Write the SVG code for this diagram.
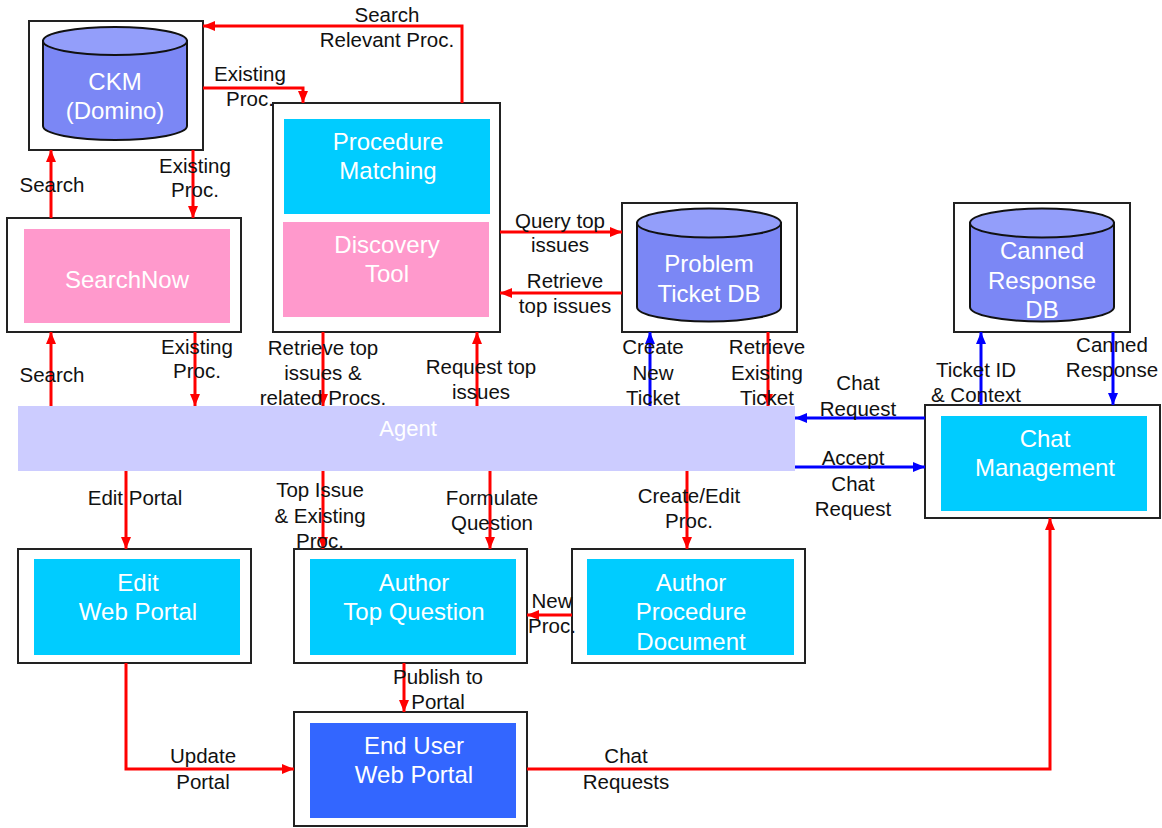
<svg xmlns="http://www.w3.org/2000/svg" width="1162" height="828" viewBox="0 0 1162 828">
<style>
.frame{fill:#fff;stroke:#222;stroke-width:2}
.cyan{fill:#00CCFF}
.pink{fill:#FF99CC}
.dark{fill:#3366FF}
.agent{fill:#CCCCFF}
.cyl{fill:#7B87F5;stroke:#111;stroke-width:2}
.cyltop{fill:#939EFA;stroke:#111;stroke-width:2}
.bt{font-family:"Liberation Sans",Arial,sans-serif;font-size:24px;fill:#fff;text-anchor:middle}
.lb{font-family:"Liberation Sans",Arial,sans-serif;font-size:20.5px;fill:#111;text-anchor:middle}
.r{fill:none;stroke:#FF0000;stroke-width:3;marker-end:url(#ar)}
.b{fill:none;stroke:#0000FF;stroke-width:3;marker-end:url(#ab)}
</style>
<defs>
<marker id="ar" markerUnits="userSpaceOnUse" markerWidth="12" markerHeight="10" refX="12" refY="5" orient="auto"><path d="M0,0 L12,5 L0,10 Z" fill="#FF0000"/></marker>
<marker id="ab" markerUnits="userSpaceOnUse" markerWidth="12" markerHeight="10" refX="12" refY="5" orient="auto"><path d="M0,0 L12,5 L0,10 Z" fill="#0000FF"/></marker>
</defs>
<rect width="1162" height="828" fill="#fff"/>

<g id="ckm">
<rect class="frame" x="29" y="21" width="174" height="129"/>
<path class="cyl" d="M43,41 V126 A72,14 0 0 0 187,126 V41 Z"/>
<ellipse class="cyltop" cx="115" cy="41" rx="72" ry="14"/>
<text class="bt" x="115" y="90">CKM</text>
<text class="bt" x="115" y="119">(Domino)</text>
</g>

<g id="searchnow">
<rect class="frame" x="7" y="218" width="234" height="114"/>
<rect class="pink" x="24" y="229" width="206" height="94"/>
<text class="bt" x="127" y="288">SearchNow</text>
</g>

<g id="procedure">
<rect class="frame" x="273" y="103" width="227" height="229"/>
<rect class="cyan" x="284" y="119" width="206" height="95"/>
<text class="bt" x="388" y="150">Procedure</text>
<text class="bt" x="388" y="179">Matching</text>
<rect class="pink" x="283" y="222" width="206" height="95"/>
<text class="bt" x="387" y="253">Discovery</text>
<text class="bt" x="387" y="282">Tool</text>
</g>

<g id="ticketdb">
<rect class="frame" x="622" y="203" width="175" height="129"/>
<path class="cyl" d="M637,223 V307 A72,14.5 0 0 0 781,307 V223 Z"/>
<ellipse class="cyltop" cx="709" cy="223" rx="72" ry="14.5"/>
<text class="bt" x="709" y="272">Problem</text>
<text class="bt" x="709" y="302">Ticket DB</text>
</g>

<g id="canneddb">
<rect class="frame" x="954" y="203" width="176" height="129"/>
<path class="cyl" d="M970,223 V307 A72,14.5 0 0 0 1114,307 V223 Z"/>
<ellipse class="cyltop" cx="1042" cy="223" rx="72" ry="14.5"/>
<text class="bt" x="1042" y="259">Canned</text>
<text class="bt" x="1042" y="289">Response</text>
<text class="bt" x="1042" y="318">DB</text>
</g>

<g id="agent">
<rect class="agent" x="18" y="406" width="777" height="65"/>
<text class="bt" x="408" y="436" style="font-size:22px">Agent</text>
</g>

<g id="chat">
<rect class="frame" x="925" y="405" width="235" height="113"/>
<rect class="cyan" x="941" y="416" width="206" height="95"/>
<text class="bt" x="1045" y="447">Chat</text>
<text class="bt" x="1045" y="476">Management</text>
</g>

<g id="editportal">
<rect class="frame" x="18" y="549" width="233" height="114"/>
<rect class="cyan" x="34" y="559" width="206" height="96"/>
<text class="bt" x="138" y="591">Edit</text>
<text class="bt" x="138" y="620">Web Portal</text>
</g>

<g id="authortop">
<rect class="frame" x="294" y="549" width="233" height="114"/>
<rect class="cyan" x="310" y="559" width="206" height="96"/>
<text class="bt" x="414" y="591">Author</text>
<text class="bt" x="414" y="620">Top Question</text>
</g>

<g id="authorproc">
<rect class="frame" x="572" y="549" width="233" height="114"/>
<rect class="cyan" x="587" y="559" width="207" height="96"/>
<text class="bt" x="691" y="591">Author</text>
<text class="bt" x="691" y="620">Procedure</text>
<text class="bt" x="691" y="650">Document</text>
</g>

<g id="enduser">
<rect class="frame" x="294" y="712" width="233" height="114"/>
<rect class="dark" x="310" y="723" width="206" height="95"/>
<text class="bt" x="414" y="754">End User</text>
<text class="bt" x="414" y="783">Web Portal</text>
</g>

<g id="connectors">
<path class="r" d="M462,103 V26 H203"/>
<path class="r" d="M203,88 H303 V103"/>
<path class="r" d="M193,150 V218"/>
<path class="r" d="M51,218 V150"/>
<path class="r" d="M51,406 V332"/>
<path class="r" d="M195,332 V406"/>
<path class="r" d="M323,332 V406"/>
<path class="r" d="M477,406 V332"/>
<path class="r" d="M500,232 H622"/>
<path class="r" d="M622,293 H500"/>
<path class="b" d="M650,406 V332"/>
<path class="r" d="M768,332 V406"/>
<path class="b" d="M925,418 H795"/>
<path class="b" d="M795,467 H925"/>
<path class="b" d="M981,405 V332"/>
<path class="b" d="M1113,332 V405"/>
<path class="r" d="M126,471 V549"/>
<path class="r" d="M323,471 V549"/>
<path class="r" d="M490,471 V549"/>
<path class="r" d="M687,471 V549"/>
<path class="r" d="M572,615 H527"/>
<path class="r" d="M404,663 V712"/>
<path class="r" d="M126,663 V769 H294"/>
<path class="r" d="M527,769 H1050 V518"/>

<text class="lb" x="387" y="22">Search</text>
<text class="lb" x="387" y="47">Relevant Proc.</text>
<text class="lb" x="250" y="81">Existing</text>
<text class="lb" x="250" y="106">Proc.</text>
<text class="lb" x="195" y="173">Existing</text>
<text class="lb" x="195" y="197">Proc.</text>
<text class="lb" x="52" y="192">Search</text>
<text class="lb" x="52" y="382">Search</text>
<text class="lb" x="197" y="354">Existing</text>
<text class="lb" x="197" y="378">Proc.</text>
<text class="lb" x="323" y="355">Retrieve top</text>
<text class="lb" x="323" y="380">issues &amp;</text>
<text class="lb" x="323" y="405">related Procs.</text>
<text class="lb" x="481" y="374">Request top</text>
<text class="lb" x="481" y="399">issues</text>
<text class="lb" x="560" y="228">Query top</text>
<text class="lb" x="560" y="252">issues</text>
<text class="lb" x="565" y="288">Retrieve</text>
<text class="lb" x="565" y="313">top issues</text>
<text class="lb" x="653" y="354">Create</text>
<text class="lb" x="653" y="380">New</text>
<text class="lb" x="653" y="405">Ticket</text>
<text class="lb" x="767" y="354">Retrieve</text>
<text class="lb" x="767" y="380">Existing</text>
<text class="lb" x="767" y="405">Ticket</text>
<text class="lb" x="858" y="390">Chat</text>
<text class="lb" x="858" y="416">Request</text>
<text class="lb" x="853" y="465">Accept</text>
<text class="lb" x="853" y="491">Chat</text>
<text class="lb" x="853" y="516">Request</text>
<text class="lb" x="976" y="377">Ticket ID</text>
<text class="lb" x="976" y="402">&amp; Context</text>
<text class="lb" x="1112" y="352">Canned</text>
<text class="lb" x="1112" y="377">Response</text>
<text class="lb" x="135" y="505">Edit Portal</text>
<text class="lb" x="320" y="497">Top Issue</text>
<text class="lb" x="320" y="523">&amp; Existing</text>
<text class="lb" x="320" y="548">Proc.</text>
<text class="lb" x="492" y="505">Formulate</text>
<text class="lb" x="492" y="530">Question</text>
<text class="lb" x="689" y="503">Create/Edit</text>
<text class="lb" x="689" y="528">Proc.</text>
<text class="lb" x="552" y="608">New</text>
<text class="lb" x="552" y="633">Proc.</text>
<text class="lb" x="438" y="684">Publish to</text>
<text class="lb" x="438" y="709">Portal</text>
<text class="lb" x="203" y="763">Update</text>
<text class="lb" x="203" y="789">Portal</text>
<text class="lb" x="626" y="763">Chat</text>
<text class="lb" x="626" y="789">Requests</text>
</g>
</svg>
